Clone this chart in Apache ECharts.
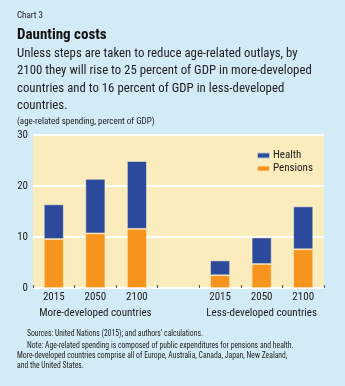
<!DOCTYPE html>
<html><head><meta charset="utf-8">
<script src="https://cdn.jsdelivr.net/npm/echarts@6/dist/echarts.min.js"></script>
<style>html,body{margin:0;padding:0;background:#d3ebf7;}#c{width:345px;height:386px;}</style>
</head><body><div id="c"></div>
<script>
const categories = ['2015','2050','2100','','2015','2050','2100'];
const pensions = [9.6, 10.7, 11.6, '-', 2.5, 4.7, 7.6];
const health = [6.8, 10.7, 13.3, '-', 2.9, 5.2, 8.4];
const yTicks = [0, 10, 20, 30];
const groupLabels = ['More-developed countries', 'Less-developed countries'];

const FONT = '"Liberation Sans Narrow", "Roboto Condensed", "Liberation Sans", sans-serif';
const chart = echarts.init(document.getElementById('c'), null, {renderer: 'canvas'});
const gridL = 33, gridR = 21, gridT = 135, gridB = 98;
const plotW = 345 - gridL - gridR;
const slot = plotW / categories.length;
const txt = (x, y, s, size, extra, sx) => ({type: 'text', x: x, y: y, scaleX: sx || 1, style: Object.assign({text: s, fill: '#222', font: size + 'px ' + FONT, textVerticalAlign: 'top'}, extra || {})});

chart.setOption({
  backgroundColor: '#d3ebf7',
  animation: false,
  grid: {left: gridL, right: gridR, top: gridT, bottom: gridB, show: true, backgroundColor: '#fbecbd', borderWidth: 0},
  legend: {
    data: ['Health', 'Pensions'], orient: 'vertical', left: 251, top: 145,
    itemWidth: 13, itemHeight: 6, itemGap: 2,
    textStyle: {fontFamily: FONT, fontSize: 11, color: '#222', padding: [0,0,0,-2]},
    icon: 'rect'
  },
  xAxis: {
    type: 'category', data: categories,
    axisLine: {show: false},
    axisTick: {show: true, inside: true, length: 3, lineStyle: {color: '#555', width: 1}},
    axisLabel: {fontFamily: FONT, fontSize: 11, color: '#222', margin: 4}
  },
  yAxis: {
    type: 'value', min: 0, max: 30, interval: 10,
    axisLine: {show: false}, axisTick: {show: false},
    splitLine: {lineStyle: {color: '#ffffff', width: 2}},
    axisLabel: {fontFamily: FONT, fontSize: 11, color: '#222', margin: 5,
      formatter: v => yTicks.includes(v) ? String(v) : ''}
  },
  series: [
    {name: 'Pensions', type: 'bar', stack: 's', data: pensions, barWidth: 20,
      itemStyle: {color: '#f7941d', borderColor: 'rgba(255,245,210,0.7)', borderWidth: 0.8}},
    {name: 'Health', type: 'bar', stack: 's', data: health, barWidth: 20,
      itemStyle: {color: '#2b4a9b', borderColor: 'rgba(255,245,210,0.7)', borderWidth: 0.8}}
  ],
  graphic: [
    txt(17, 11, 'Chart 3', 9),
    txt(17, 28, 'Daunting costs', 15, {font: 'bold 15px ' + FONT, fill: '#111'}),
    txt(17, 47, 'Unless steps are taken to reduce age-related outlays, by', 13, null, 0.985),
    txt(17, 64.5, '2100 they will rise to 25 percent of GDP in more-developed', 13, null, 0.985),
    txt(17, 82, 'countries and to 16 percent of GDP in less-developed', 13, null, 0.985),
    txt(17, 99.5, 'countries.', 13, null, 0.985),
    txt(17, 117, '(age-related spending, percent of GDP)', 9),
    {type: 'text', x: gridL + slot * 1.5, y: 308, style: {text: groupLabels[0], fill: '#222', font: '11px ' + FONT, textAlign: 'center'}},
    {type: 'text', x: gridL + slot * 5.5, y: 308, style: {text: groupLabels[1], fill: '#222', font: '11px ' + FONT, textAlign: 'center'}},
    txt(27, 329.5, 'Sources: United Nations (2015); and authors\u2019 calculations.', 8.3, null, 0.925),
    txt(27, 342, 'Note: Age-related spending is composed of public expenditures for pensions and health.', 8.3, null, 0.925),
    txt(17, 352, 'More-developed countries comprise all of Europe, Australia, Canada, Japan, New Zealand,', 8.3, null, 0.925),
    txt(17, 362, 'and the United States.', 8.3, null, 0.925)
  ]
});
</script></body></html>
